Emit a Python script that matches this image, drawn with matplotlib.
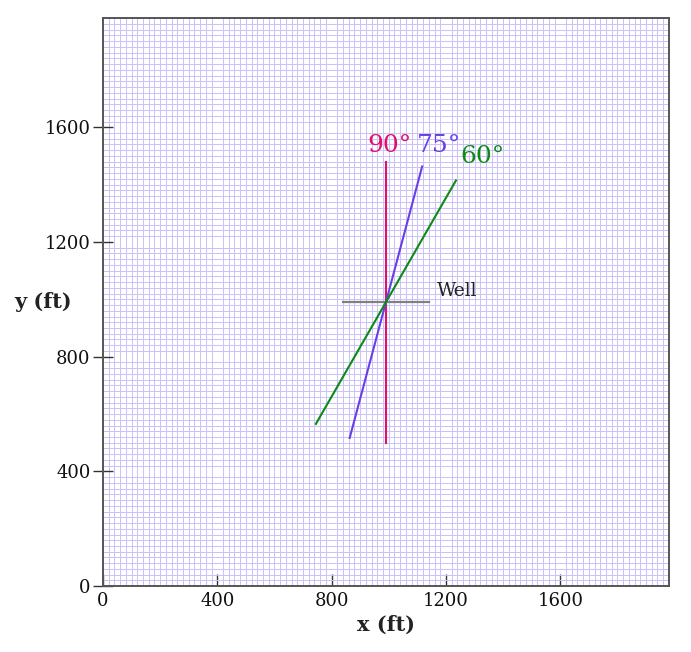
import numpy as np
import matplotlib.pyplot as plt

# well location and fracture orientations (ft, degrees)
well_x = 990
well_y = 990
well_half_width = 150
angles = [90, 75, 60]
half_length = 490
line_colors = ["#e0106e", "#6a3ee6", "#0b8a14"]
labels = ["90°", "75°", "60°"]
label_x = [1003, 1174, 1328]
label_y = [1515, 1515, 1476]

domain = 1980
cell = 20
ticks = [0, 400, 800, 1200, 1600]

plt.rcParams["font.family"] = ["DejaVu Serif"]

fig = plt.figure(figsize=(6.91, 6.52), dpi=100)
ax = fig.add_axes([0.149, 0.101, 0.819, 0.871])

# fine grid
ax.set_xticks(np.arange(0, domain + 1, cell), minor=True)
ax.set_yticks(np.arange(0, domain + 1, cell), minor=True)
ax.grid(which="minor", color="#c9c1f8", linewidth=0.7, linestyle="-")
ax.tick_params(which="minor", length=0)

# well
ax.plot([well_x - well_half_width, well_x + well_half_width], [well_y, well_y],
        color="#808080", lw=1.6, zorder=3)
ax.text(1170, 1030, "Well", fontsize=13.5, va="center", ha="left", color="#222222")

# fractures
for ang, col, lab, lx, ly in zip(angles, line_colors, labels, label_x, label_y):
    dx = half_length * np.cos(np.radians(ang))
    dy = half_length * np.sin(np.radians(ang))
    ax.plot([well_x - dx, well_x + dx], [well_y - dy, well_y + dy], color=col, lw=1.5, zorder=4)
    ax.text(lx, ly, lab, color=col, fontsize=18, ha="center", va="baseline")

ax.set_xlim(0, domain)
ax.set_ylim(0, domain)
ax.set_xticks(ticks)
ax.set_yticks(ticks)
ax.tick_params(axis="x", direction="in", length=9, width=1, colors="#333333",
               labelcolor="#111111", labelsize=13, pad=4)
ax.tick_params(axis="y", direction="inout", length=14, width=1, colors="#333333",
               labelcolor="#111111", labelsize=13, pad=2)
for s in ax.spines.values():
    s.set_color("#555555")
    s.set_linewidth(1.4)

ax.set_xlabel("x (ft)", fontsize=15, fontweight="bold", color="#222222", labelpad=4)
ax.set_ylabel("y (ft)", fontsize=15, fontweight="bold", color="#222222", rotation=0,
              va="center", ha="center")
ax.yaxis.set_label_coords(-0.106, 0.5)

fig.savefig("out.png", dpi=100)
